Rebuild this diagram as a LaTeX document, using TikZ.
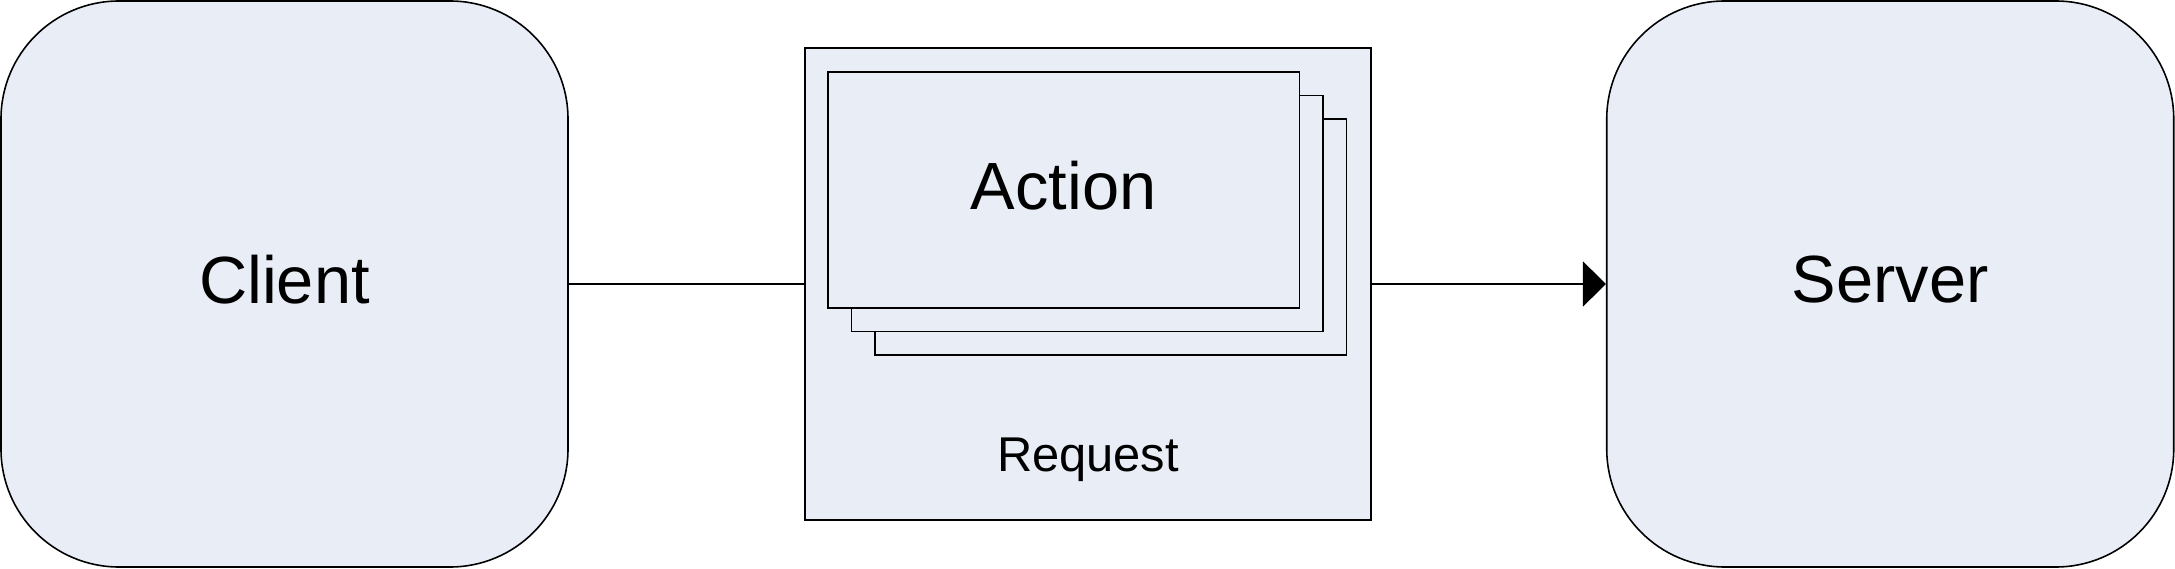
\documentclass[tikz,border=0pt]{standalone}
\usepackage{fontspec}
\setmainfont{Liberation Sans}
\usetikzlibrary{arrows.meta}
\definecolor{boxfill}{RGB}{232,237,246}

\begin{document}
\begin{tikzpicture}[
  endpoint/.style={draw, fill=boxfill, line width=0.45pt, rounded corners=1.18cm,
    minimum width=5.67cm, minimum height=5.66cm, text depth=0.1cm,
    font=\fontsize{19}{23}\selectfont},
  card/.style={draw, fill=boxfill, line width=0.45pt, inner sep=0pt, text depth=0.1cm,
    minimum width=4.715cm, minimum height=2.36cm, font=\fontsize{19}{23}\selectfont},
  link/.style={line width=0.45pt}]
  \useasboundingbox (0cm,0cm) rectangle (21.75cm,-5.69cm);
  \node[draw, fill=boxfill, line width=0.45pt, minimum width=5.66cm, minimum height=4.72cm] (request) at (10.88cm,-2.84cm) {};
  \node[anchor=base, font=\fontsize{13.9}{17}\selectfont] (reqlabel) at (10.88cm,-4.717cm) {Request};
  \node[card] (action3) at (11.1075cm,-2.37cm) {};
  \node[card] (action2) at (10.8725cm,-2.135cm) {};
  \node[card] (action) at (10.6375cm,-1.90cm) {Action};
  \node[endpoint] (client) at (2.845cm,-2.84cm) {Client};
  \node[endpoint] (server) at (18.9025cm,-2.84cm) {Server};
  \draw[link] (client) -- (request);
  \draw[link, -{Triangle[length=0.23cm,width=0.45cm]}] (request) -- (server);
\end{tikzpicture}
\end{document}
